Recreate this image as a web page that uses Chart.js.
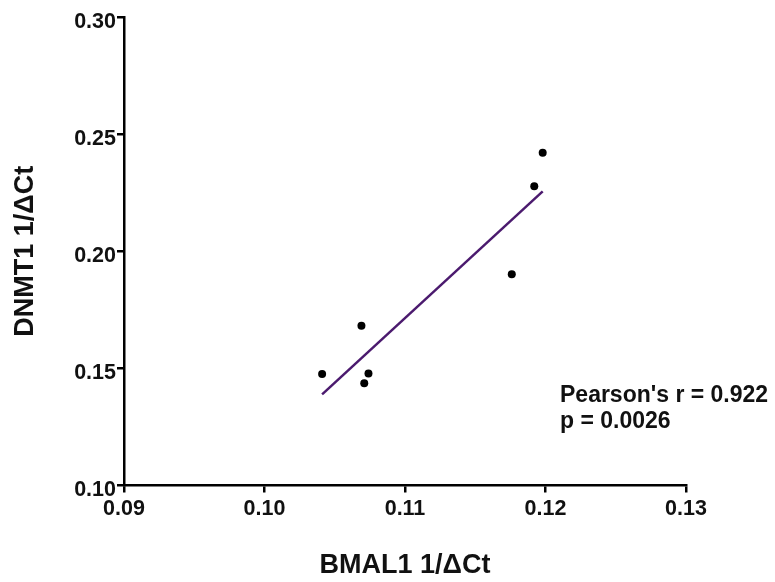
<!DOCTYPE html>
<html>
<head>
<meta charset="utf-8">
<script src="https://cdn.jsdelivr.net/npm/chart.js@4.4.1/dist/chart.umd.min.js"></script>
<style>
  html, body { margin: 0; padding: 0; background: #ffffff; }
  #wrap { width: 775px; height: 582px; position: relative; }
</style>
</head>
<body>
<div id="wrap"><canvas id="c" width="775" height="582"></canvas></div>
<script>
// ---- data ----
const xValues = [0.1041, 0.1069, 0.1074, 0.1071, 0.1176, 0.1192, 0.1198];
const yValues = [0.1476, 0.1682, 0.1478, 0.1436, 0.1902, 0.2277, 0.2420];
const xTickValues = [0.09, 0.10, 0.11, 0.12, 0.13];
const xTickLabels = ['0.09', '0.10', '0.11', '0.12', '0.13'];
const yTickValues = [0.10, 0.15, 0.20, 0.25, 0.30];
const yTickLabels = ['0.10', '0.15', '0.20', '0.25', '0.30'];
const xTitle = 'BMAL1 1/\u0394Ct';
const yTitle = 'DNMT1 1/\u0394Ct';
const statLines = ["Pearson's r = 0.922", 'p = 0.0026'];

// ---- least-squares fit computed from the data ----
const n = xValues.length;
const mx = xValues.reduce((a, b) => a + b, 0) / n;
const my = yValues.reduce((a, b) => a + b, 0) / n;
let sxy = 0, sxx = 0;
for (let i = 0; i < n; i++) { sxy += (xValues[i] - mx) * (yValues[i] - my); sxx += (xValues[i] - mx) ** 2; }
const slope = sxy / sxx, intercept = my - slope * mx;
const xMin = Math.min(...xValues), xMax = Math.max(...xValues);
const fitPoints = [xMin, xMax].map(x => ({ x: x, y: intercept + slope * x }));

const FONT = '"Liberation Sans", Arial, Helvetica, sans-serif';

const statPlugin = {
  id: 'stat',
  afterDraw(chart) {
    const ctx = chart.ctx;
    ctx.save();
    ctx.fillStyle = '#111';
    ctx.font = 'bold 23px ' + FONT;
    ctx.textAlign = 'left';
    ctx.textBaseline = 'alphabetic';
    ctx.fillText(statLines[0], 560, 401.5);
    ctx.fillText(statLines[1], 560, 427.5);
    ctx.restore();
  }
};

new Chart(document.getElementById('c'), {
  type: 'scatter',
  data: {
    datasets: [
      {
        data: xValues.map((x, i) => ({ x: x, y: yValues[i] })),
        backgroundColor: '#000',
        borderWidth: 0,
        pointRadius: 4,
        order: 1
      },
      {
        data: fitPoints,
        showLine: true,
        borderColor: '#4B1A6E',
        borderWidth: 2.5,
        pointRadius: 0,
        fill: false,
        order: 2
      }
    ]
  },
  options: {
    responsive: false,
    devicePixelRatio: 1,
    animation: false,
    layout: { padding: { top: 17, right: 89, bottom: 0, left: 0 } },
    plugins: { legend: { display: false }, tooltip: { enabled: false } },
    scales: {
      x: {
        type: 'linear',
        min: 0.09, max: 0.13,
        offset: false,
        afterFit(scale) { scale.height = 96.5; },
        afterBuildTicks(scale) { scale.ticks = xTickValues.map(v => ({ value: v })); },
        ticks: {
          autoSkip: false, maxRotation: 0, padding: 4,
          color: '#111',
          font: { family: FONT, size: 21.5, weight: 'bold' },
          callback: (v, i) => xTickLabels[i]
        },
        grid: { display: true, drawOnChartArea: false, drawTicks: true, tickLength: 7, color: '#000', lineWidth: 2.5 },
        border: { display: true, color: '#000', width: 2.5 },
        title: {
          display: true, text: xTitle, color: '#111',
          font: { family: FONT, size: 27, weight: 'bold', lineHeight: 1 },
          padding: { top: 0, bottom: 3 }
        }
      },
      y: {
        type: 'linear',
        min: 0.10, max: 0.30,
        afterFit(scale) { scale.width = 124; },
        afterBuildTicks(scale) { scale.ticks = yTickValues.map(v => ({ value: v })); },
        ticks: {
          autoSkip: false, padding: 1, labelOffset: 5,
          color: '#111',
          font: { family: FONT, size: 21.5, weight: 'bold' },
          callback: (v, i) => yTickLabels[i]
        },
        grid: { display: true, drawOnChartArea: false, drawTicks: true, tickLength: 7, color: '#000', lineWidth: 2.5 },
        border: { display: true, color: '#000', width: 2.5 },
        title: {
          display: true, text: yTitle, color: '#111',
          font: { family: FONT, size: 27, weight: 'bold', lineHeight: 1 },
          padding: { top: 12, bottom: 0 }
        }
      }
    }
  },
  plugins: [statPlugin]
});
</script>
</body>
</html>
